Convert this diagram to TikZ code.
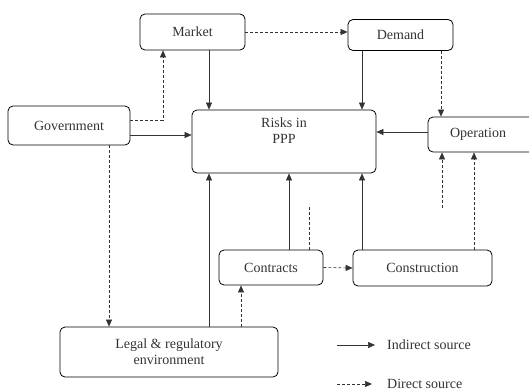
\documentclass[tikz,border=0pt]{standalone}
\usepackage{fontspec}
\setmainfont{Liberation Serif}
\usetikzlibrary{arrows.meta,positioning,calc}

\begin{document}
\begin{tikzpicture}[
  x=1pt, y=-1pt,
  font=\rmfamily\fontsize{14}{16}\selectfont,
  riskbox/.style={draw, line width=0.8pt, rounded corners=5pt, align=center,
    inner sep=2pt, text=black!80},
  indirect/.style={-{Triangle[length=7pt, width=6pt]}, line width=0.6pt, black!80},
  direct/.style={-{Triangle[length=7pt, width=6pt]}, densely dashed, line width=0.6pt, black!80},
  freeend/.style={densely dashed, line width=0.6pt, black!80},
  keytext/.style={anchor=west, inner sep=1pt, text=black!80}
]
\useasboundingbox (0,0) rectangle (529,391);

\node[riskbox, minimum width=105pt, minimum height=36pt] (mkt) at (192.5,32) {Market};
\node[riskbox, minimum width=105pt, minimum height=31pt] (dem) at (400.5,35) {Demand};
\node[riskbox, minimum width=122pt, minimum height=39pt] (gov) at (69,125.5) {Government};
\node[riskbox, minimum width=184pt, minimum height=63pt] (risk) at (284,141.5) {Risks in\\PPP\\[6pt]};
\node[riskbox, minimum width=112pt, minimum height=35pt] (op) at (484,134.5) {\hspace*{-12pt}Operation};
\node[riskbox, minimum width=104pt, minimum height=35pt] (con) at (271,267.5) {Contracts};
\node[riskbox, minimum width=139pt, minimum height=36pt] (cst) at (422.5,268) {Construction};
\node[riskbox, minimum width=218pt, minimum height=50pt] (leg) at (169,352) {Legal \& regulatory\\environment};

% free ends of the short dashed lines
\coordinate (cfree) at (309,205);
\coordinate (ofree) at (442,208);

\draw[direct] (mkt.east) -- (mkt.east -| dem.west);
\draw[indirect] ([xshift=16.5pt]mkt.south) -- ([xshift=16.5pt]mkt.south |- risk.north);
\draw[direct] ([yshift=5.5pt]gov.east) -| ([xshift=-29.5pt]mkt.south);
\draw[indirect] ([yshift=-9.5pt]gov.east) -- ([yshift=-9.5pt]gov.east -| risk.west);
\draw[direct] ([xshift=40pt]gov.south) -- ([xshift=40pt]gov.south |- leg.north);
\draw[indirect] ([xshift=-38.5pt]dem.south) -- ([xshift=-38.5pt]dem.south |- risk.north);
\draw[direct] ([xshift=40.5pt]dem.south) -- ([xshift=40.5pt]dem.south |- op.north);
\draw[indirect] ([yshift=2.5pt]op.west) -- ([yshift=2.5pt]op.west -| risk.east);
\draw[indirect] ([xshift=40pt]leg.north) -- ([xshift=40pt]leg.north |- risk.south);
\draw[direct] ([xshift=72pt]leg.north) -- ([xshift=72pt]leg.north |- con.south);
\draw[indirect] ([xshift=18pt]con.north) -- ([xshift=18pt]con.north |- risk.south);
\draw[freeend] (cfree |- con.north) -- (cfree);
\draw[direct] (con.east) -- (cst.west);
\draw[indirect] ([xshift=-60.5pt]cst.north) -- ([xshift=-60.5pt]cst.north |- risk.south);
\draw[direct] ([xshift=51.5pt]cst.north) -- ([xshift=51.5pt]cst.north |- op.south);
\draw[direct] (ofree) -- (ofree |- op.south);

% key
\node[keytext] (lind) at (386,345) {Indirect source};
\node[keytext] (ldir) at (386,384) {Direct source};
\coordinate (kind) at (337,345);
\coordinate (kdir) at (337,384);
\draw[indirect] (kind) -- ([xshift=-11pt]lind.west);
\draw[direct] (kdir) -- ([xshift=-14pt]ldir.west);
\end{tikzpicture}
\end{document}
